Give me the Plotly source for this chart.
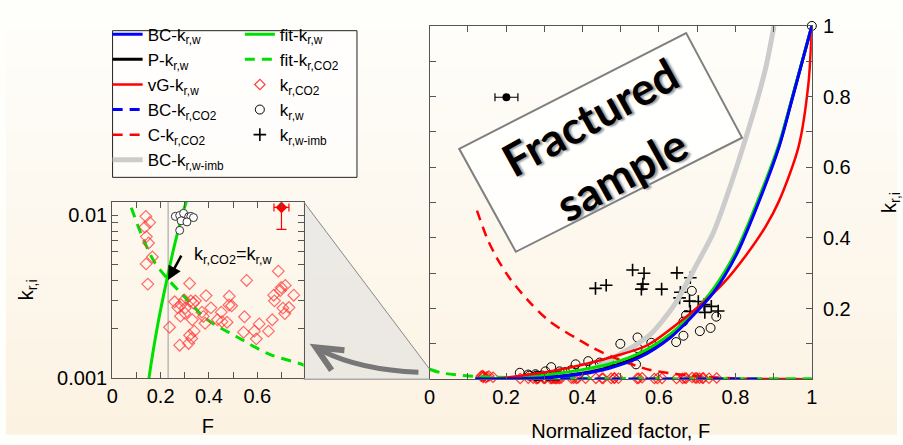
import math
import plotly.graph_objects as go

W, H = 903, 445

# ---------------- data ----------------
# model / fit curves (normalized factor F, relative permeability kr)
bc_w_F = [0.12, 0.2, 0.3, 0.4, 0.47, 0.55, 0.63, 0.682, 0.742, 0.802, 0.854, 0.914, 0.948, 1.0]
bc_w_kr = [0.0001, 0.0006, 0.004, 0.015, 0.031, 0.062, 0.118, 0.172, 0.244, 0.351, 0.482, 0.657, 0.791, 1.0]

p_w_F = [0.12, 0.2, 0.3, 0.4, 0.47, 0.55, 0.63, 0.682, 0.742, 0.802, 0.854, 0.914, 0.948, 1.0]
p_w_kr = [0.0002, 0.0008, 0.0045, 0.017, 0.034, 0.066, 0.122, 0.176, 0.248, 0.355, 0.486, 0.66, 0.793, 1.0]

vg_w_F = [0.17, 0.2, 0.277, 0.389, 0.484, 0.57, 0.656, 0.716, 0.768, 0.828, 0.879, 0.914, 0.965, 0.991, 1.0]
vg_w_kr = [0.0, 0.004, 0.015, 0.038, 0.065, 0.096, 0.163, 0.217, 0.271, 0.351, 0.432, 0.504, 0.657, 0.836, 1.0]

fit_w_F = [0.12, 0.152, 0.19, 0.227, 0.26, 0.306, 0.4, 0.47, 0.55, 0.63, 0.682, 0.742, 0.802, 0.854, 0.914, 0.948, 1.0]
fit_w_kr = [0.0004, 0.001, 0.0022, 0.0041, 0.0068, 0.0121, 0.027, 0.043, 0.074, 0.128, 0.18, 0.255, 0.362, 0.493, 0.665, 0.795, 1.0]

fit_co2_F = [0.0, 0.03, 0.071, 0.118, 0.173, 0.227, 0.295, 0.39, 0.513, 0.649, 0.792, 0.9, 1.0]
fit_co2_kr = [0.028, 0.018, 0.012, 0.0078, 0.0052, 0.0041, 0.0032, 0.0023, 0.0018, 0.0014, 0.0012, 0.001, 0.0009]

bc_co2_F = [0.12, 0.3, 0.5, 0.7, 0.86]
bc_co2_kr = [0.0005, 0.0004, 0.0003, 0.0002, 0.0001]

c_co2_F = [0.124, 0.15, 0.175, 0.21, 0.264, 0.307, 0.346, 0.385, 0.428, 0.484, 0.54, 0.578, 0.64, 0.7, 0.8, 0.9, 1.0]
c_co2_kr = [0.477, 0.40, 0.345, 0.285, 0.215, 0.17, 0.14, 0.115, 0.088, 0.06, 0.038, 0.026, 0.015, 0.008, 0.002, 0.0005, 0.0]

bc_imb_F = [0.2, 0.3, 0.38, 0.43, 0.484, 0.544, 0.578, 0.639, 0.699, 0.742, 0.772, 0.845, 0.879, 0.901]
bc_imb_kr = [0.0, 0.004, 0.015, 0.03, 0.062, 0.10, 0.127, 0.208, 0.325, 0.414, 0.50, 0.746, 0.88, 1.0]

# measured kr,CO2 (open diamonds)
co2_F = [0.139, 0.155, 0.135, 0.141, 0.150, 0.166, 0.140, 0.147, 0.237, 0.258, 0.271, 0.284,
         0.282, 0.298, 0.302, 0.301, 0.320, 0.325, 0.336, 0.331, 0.344, 0.320, 0.329, 0.339,
         0.279, 0.316, 0.371, 0.377, 0.388, 0.408, 0.384, 0.435, 0.451, 0.454, 0.484, 0.483,
         0.475, 0.494, 0.547, 0.543, 0.556, 0.588, 0.596, 0.608, 0.646, 0.662, 0.671, 0.668,
         0.687, 0.695, 0.714, 0.716, 0.731, 0.751, 0.699, 0.706]
co2_kr = [0.00987, 0.00906, 0.00848, 0.00741, 0.00677, 0.00555, 0.00503, 0.00378, 0.00205, 0.00294,
          0.00271, 0.00282, 0.0024, 0.00302, 0.00269, 0.0025, 0.00381, 0.00298, 0.00289, 0.00228,
          0.00298, 0.00183, 0.00175, 0.00194, 0.00159, 0.00163, 0.00254, 0.00239, 0.00321, 0.0027,
          0.00217, 0.00228, 0.00254, 0.00222, 0.00318, 0.00281, 0.0022, 0.00278, 0.00238, 0.00191,
          0.00398, 0.00194, 0.00174, 0.00215, 0.00194, 0.00228, 0.00298, 0.00323, 0.00454, 0.00345,
          0.00249, 0.00371, 0.00271, 0.00323, 0.0036, 0.00269]

# measured kr,w (open circles)
w_F = [0.261, 0.279, 0.295, 0.285, 0.316, 0.325, 0.336, 0.309, 0.279,
       0.236, 0.258, 0.277, 0.303, 0.318, 0.34, 0.355, 0.382, 0.415, 0.445, 0.452, 0.466,
       0.484, 0.499, 0.54, 0.544, 0.544, 0.58, 0.645, 0.664, 0.664, 0.671, 0.686, 0.707,
       0.735, 0.75, 0.37, 0.40, 0.43, 0.47, 1.0]
w_kr = [0.00987, 0.0100, 0.0103, 0.00927, 0.0098, 0.00987, 0.0097, 0.00912, 0.00809,
        0.018, 0.013, 0.014, 0.022, 0.034, 0.022, 0.02, 0.042, 0.051, 0.047, 0.036, 0.045,
        0.053, 0.10, 0.042, 0.118, 0.088, 0.103, 0.105, 0.123, 0.163, 0.181, 0.25, 0.136,
        0.145, 0.177, 0.025, 0.03, 0.038, 0.05, 1.0]

# measured kr,w during imbibition (crosses)
imb_F = [0.434, 0.462, 0.531, 0.561, 0.558, 0.554, 0.607, 0.647, 0.682, 0.656, 0.654,
         0.68, 0.703, 0.682, 0.718, 0.737, 0.755, 0.72]
imb_kr = [0.257, 0.266, 0.309, 0.30, 0.269, 0.255, 0.255, 0.301, 0.287, 0.246, 0.230,
          0.221, 0.220, 0.192, 0.211, 0.206, 0.193, 0.189]

# typical uncertainty markers
err_main_F, err_main_kr, err_main_dF = [0.201], [0.798], [0.03]
err_ins_F, err_ins_kr, err_ins_dF, err_ins_dkr_minus = [0.70], [0.0112], [0.031], [0.003]

# crossover point kr,CO2 = kr,w
cross_F, cross_kr = 0.231, 0.004

# ---------------- helpers ----------------
def px(x):
    return x / W


def py(y):
    return 1 - y / H


FONT = "Liberation Sans, Arial, sans-serif"
BLUE, RED, GREEN, BLACK, GRAY = "#0000ff", "#ff0000", "#00e000", "#000000", "#cccccc"
DASH = "10px,7px"
TICK_SIZE = 20

fig = go.Figure()


def line(xs, ys, name, color, width, dash="solid", legend="legend", rank=1, show=True,
         xa="x", ya="y"):
    fig.add_trace(go.Scatter(
        x=xs, y=ys, mode="lines", name=name, xaxis=xa, yaxis=ya,
        line=dict(color=color, width=width, dash=dash, shape="spline", smoothing=0.8),
        legend=legend, legendrank=rank, showlegend=show, hoverinfo="skip"))


# ---------------- main plot ----------------
fig.add_trace(go.Scatter(x=co2_F, y=co2_kr, mode="markers", name="k<sub>r,CO2</sub>",
                         marker=dict(symbol="diamond-open", size=8, color="rgba(255,0,0,0.75)",
                                     line=dict(width=1.2)),
                         legend="legend2", legendrank=3, cliponaxis=False))
fig.add_trace(go.Scatter(x=w_F, y=w_kr, mode="markers", name="k<sub>r,w</sub>",
                         marker=dict(symbol="circle-open", size=9, color=BLACK, line=dict(width=1)),
                         legend="legend2", legendrank=4, cliponaxis=False))
fig.add_trace(go.Scatter(x=imb_F, y=imb_kr, mode="markers", name="k<sub>r,w-imb</sub>",
                         marker=dict(symbol="cross-thin-open", size=9, color=BLACK,
                                     line=dict(width=1.6, color=BLACK)),
                         legend="legend2", legendrank=5))
line(bc_imb_F, bc_imb_kr, "BC-k<sub>r,w-imb</sub>", GRAY, 5, rank=6)
line(c_co2_F, c_co2_kr, "C-k<sub>r,CO2</sub>", RED, 2.5, dash=DASH, rank=5)
line(fit_co2_F, fit_co2_kr, "fit-k<sub>r,CO2</sub>", GREEN, 3, dash=DASH, legend="legend2", rank=2)
line(bc_co2_F, bc_co2_kr, "BC-k<sub>r,CO2</sub>", BLUE, 3, dash=DASH, rank=4)
line(p_w_F, p_w_kr, "P-k<sub>r,w</sub>", BLACK, 3, rank=2)
line(fit_w_F, fit_w_kr, "fit-k<sub>r,w</sub>", GREEN, 3, legend="legend2", rank=1)
line(vg_w_F, vg_w_kr, "vG-k<sub>r,w</sub>", RED, 2.5, rank=3)
line(bc_w_F, bc_w_kr, "BC-k<sub>r,w</sub>", BLUE, 3, rank=1)
fig.add_trace(go.Scatter(x=err_main_F, y=err_main_kr, mode="markers", showlegend=False,
                         marker=dict(symbol="circle", size=8, color=BLACK),
                         error_x=dict(type="data", array=err_main_dF, color=BLACK, thickness=1.2, width=4)))

# ---------------- inset (log scale) ----------------
line(fit_co2_F, fit_co2_kr, "", GREEN, 3, dash=DASH, show=False, xa="x2", ya="y2")
fig.add_trace(go.Scatter(x=co2_F, y=co2_kr, mode="markers", showlegend=False, xaxis="x2", yaxis="y2",
                         marker=dict(symbol="diamond-open", size=9, color="rgba(255,60,60,0.75)",
                                     line=dict(width=1.2))))
line(fit_w_F, fit_w_kr, "", GREEN, 3, show=False, xa="x2", ya="y2")
fig.add_trace(go.Scatter(x=w_F, y=w_kr, mode="markers", showlegend=False, xaxis="x2", yaxis="y2",
                         marker=dict(symbol="circle", size=8, color="white",
                                     line=dict(width=1, color="#333"))))
fig.add_trace(go.Scatter(x=err_ins_F, y=err_ins_kr, mode="markers", showlegend=False,
                         xaxis="x2", yaxis="y2",
                         marker=dict(symbol="diamond", size=9, color=RED),
                         error_x=dict(type="data", array=err_ins_dF, color=RED, thickness=1.2, width=4),
                         error_y=dict(type="data", symmetric=False, array=[0],
                                      arrayminus=err_ins_dkr_minus, color=RED, thickness=1.2, width=5)))

# ---------------- shapes ----------------
shapes = []
top_c, bot_c = (254, 254, 251), (252, 242, 226)
n = 45
for i in range(n):
    t = (i + 0.5) / n
    c = tuple(round(top_c[k] + (bot_c[k] - top_c[k]) * t) for k in range(3))
    shapes.append(dict(type="rect", xref="paper", yref="paper", x0=0, x1=1,
                       y0=1 - (i + 1) / n - 0.002, y1=1 - i / n,
                       fillcolor="rgb(%d,%d,%d)" % c, line=dict(width=0), layer="below"))

# legend frame
shapes.append(dict(type="rect", xref="paper", yref="paper", x0=px(108), x1=px(355.7),
                   y0=py(175), y1=py(20.7), line=dict(color="#222", width=1),
                   fillcolor="rgba(255,255,255,0.6)", layer="below"))


def P(x, y):
    return "%.5f,%.5f" % (px(x), py(y))


# zoom wedge between inset and main plot
shapes.append(dict(type="path", xref="paper", yref="paper",
                   path="M%s L%s L%s L%s Z" % (P(301.7, 200.7), P(429.5, 377), P(429.5, 387.3), P(301.7, 387.3)),
                   fillcolor="rgba(225,225,225,0.6)", line=dict(width=0), layer="below"))
shapes.append(dict(type="line", xref="paper", yref="paper", x0=px(301.7), y0=py(200.7),
                   x1=px(429.5), y1=py(377), line=dict(color="#888", width=1)))
shapes.append(dict(type="line", xref="paper", yref="paper", x0=px(301.7), y0=py(387.3),
                   x1=px(429.5), y1=py(387.3), line=dict(color="#aaa", width=1.5)))

# curved arrow
shapes.append(dict(type="path", xref="paper", yref="paper",
                   path="M%s Q%s %s" % (P(418, 380), P(360, 378), P(320, 357.5)),
                   line=dict(color="#777", width=5)))
shapes.append(dict(type="path", xref="paper", yref="paper",
                   path="M%s L%s L%s" % (P(343, 357), P(314, 354), P(330, 378)),
                   line=dict(color="#777", width=6)))

# rotated text frame
shapes.append(dict(type="path", xref="paper", yref="paper",
                   path="M%s L%s L%s L%s Z" % (P(459.3, 145), P(689.3, 23.3), P(746, 133.3), P(516.7, 253.3)),
                   fillcolor="rgba(255,255,254,0.85)", line=dict(color="#808080", width=2)))

# inset crossover guide lines
shapes.append(dict(type="line", xref="x2", yref="y2 domain", x0=cross_F, x1=cross_F, y0=0, y1=1,
                   line=dict(color="#999", width=1), layer="below"))
shapes.append(dict(type="line", xref="x2 domain", yref="y2", x0=0, x1=1,
                   y0=math.log10(cross_kr), y1=math.log10(cross_kr),
                   line=dict(color="#999", width=1), layer="below"))

# ---------------- annotations ----------------
ann = []
big = dict(family="Lato, sans-serif", size=45, color=BLACK, shadow="2px 2px 2px #999")
ann.append(dict(xref="paper", yref="paper", x=px(592), y=py(112), text="<b>Fractured</b>",
                showarrow=False, textangle=-29, xanchor="center", yanchor="middle", font=big))
ann.append(dict(xref="paper", yref="paper", x=px(624), y=py(172), text="<b>sample</b>",
                showarrow=False, textangle=-29, xanchor="center", yanchor="middle", font=big))
ann.append(dict(xref="x2", yref="y2", x=cross_F, y=math.log10(cross_kr), text="", showarrow=True,
                ax=14, ay=-26, arrowhead=2, arrowsize=1.1, arrowwidth=2.5, arrowcolor=BLACK, standoff=0))
ann.append(dict(xref="paper", yref="paper", x=px(189), y=py(257), xanchor="left", yanchor="middle",
                text="k<sub>r,CO2</sub>=k<sub>r,w</sub>", showarrow=False,
                font=dict(family=FONT, size=18, color=BLACK)))

axis_common = dict(showgrid=False, zeroline=False, showline=True, linecolor="#555", linewidth=1.2,
                   ticks="inside", ticklen=6, tickcolor="#555", mirror="allticks",
                   tickfont=dict(family=FONT, size=TICK_SIZE, color=BLACK))
minor_lin = dict(tickmode="linear", tick0=0, dtick=0.1, ticks="inside", ticklen=6, tickcolor="#555")

fig.update_layout(
    width=W, height=H, autosize=False,
    margin=dict(l=0, r=0, t=0, b=0),
    paper_bgcolor="rgb(254,254,251)", plot_bgcolor="rgba(0,0,0,0)",
    font=dict(family=FONT, size=TICK_SIZE, color=BLACK),
    xaxis=dict(axis_common, domain=[px(429.3), px(816.7)], range=[0, 1], anchor="y",
               dtick=0.2, tick0=0, minor=minor_lin,
               title=dict(text="Normalized factor, F", standoff=16, font=dict(size=TICK_SIZE))),
    yaxis=dict(axis_common, domain=[py(387.3), py(15.7)], range=[0, 1], anchor="x", side="right",
               tickmode="array", tickvals=[0.2, 0.4, 0.6, 0.8, 1], ticktext=["0.2", "0.4", "0.6", "0.8", "1"],
               ticklabelstandoff=6, minor=minor_lin,
               title=dict(text="k<sub>r,i</sub>", standoff=32, font=dict(size=TICK_SIZE))),
    xaxis2=dict(axis_common, domain=[px(107.7), px(301.7)], range=[0, 0.792], anchor="y2",
                dtick=0.2, tick0=0, minor=minor_lin,
                title=dict(text="F", standoff=12, font=dict(size=TICK_SIZE))),
    yaxis2=dict(axis_common, type="log", domain=[py(386), py(200.7)], range=[-3, -1.916], anchor="x2",
                tickmode="array", tickvals=[0.001, 0.01], ticktext=["0.001", "0.01"],
                minor=dict(tickmode="array",
                           tickvals=[0.002, 0.003, 0.004, 0.005, 0.006, 0.007, 0.008, 0.009],
                           ticks="inside", ticklen=6, tickcolor="#555"),
                title=dict(text="k<sub>r,i</sub>", standoff=18, font=dict(size=TICK_SIZE))),
    legend=dict(x=px(103), y=py(6), xanchor="left", yanchor="top", bgcolor="rgba(0,0,0,0)",
                borderwidth=0, font=dict(family=FONT, size=17, color=BLACK), itemwidth=30,
                tracegroupgap=0),
    legend2=dict(x=px(237), y=py(6), xanchor="left", yanchor="top", bgcolor="rgba(0,0,0,0)",
                 borderwidth=0, font=dict(family=FONT, size=17, color=BLACK), itemwidth=30,
                 tracegroupgap=0),
    shapes=shapes, annotations=ann,
)

fig.write_html("out.html")
